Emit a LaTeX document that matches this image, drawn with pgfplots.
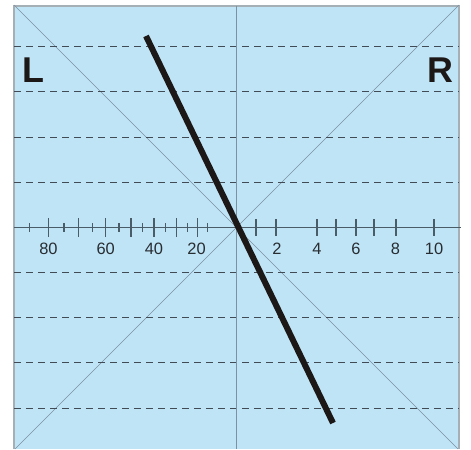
\documentclass[border=0pt]{standalone}
\usepackage{fontspec}
\setmainfont{Liberation Sans}
\usepackage{pgfplots}
\usepackage{pgfplotstable}
\pgfplotsset{compat=1.18}

\definecolor{panelBlue}{RGB}{191,228,246}
\definecolor{edgeGray}{RGB}{165,175,182}
\definecolor{axisGray}{RGB}{75,92,105}
\definecolor{diagGray}{RGB}{125,145,160}
\definecolor{dashGray}{RGB}{65,75,85}
\definecolor{textGray}{RGB}{40,45,50}
\definecolor{needle}{RGB}{28,24,24}

% tick marks on the centre scale: position and half length (pixels)
\pgfplotstableread{
x     h
29.3  4.5
48.5  9.5
64.0  4.5
78.3  9.5
92.7  4.5
105.7 9.5
119.0 4.5
131.0 9.5
142.7 4.5
154.0 9.5
165.7 4.5
176.7 9.5
187.3 4.5
197.7 9.5
207.3 4.5
256.0 8.5
276.0 8.5
317.0 8.5
336.0 8.5
356.0 8.5
374.0 8.5
396.0 8.5
434.0 8.5
}\scaleticks

\pgfplotstableread{
x     y    lab
48.5  249  80
105.7 249  60
154.0 249  40
196.5 249  20
277.0 249  2
317.0 249  4
356.0 249  6
395.5 249  8
434.0 249  10
}\scalelabels

% dashed guide lines, nan rows break the line
\pgfplotstableread{
x   y
14  46.5
459 46.5
nan nan
14  91.5
459 91.5
nan nan
14  137
459 137
nan nan
14  182
459 182
nan nan
14  272.5
459 272.5
nan nan
14  317.5
459 317.5
nan nan
14  362.5
459 362.5
nan nan
14  408.3
459 408.3
}\guides

\begin{document}
\begin{tikzpicture}
\begin{axis}[
    width=471bp, height=449bp, scale only axis,
    xmin=0, xmax=471, ymin=0, ymax=449,
    y dir=reverse,
    hide axis, clip=false,
    unbounded coords=jump,
]
    % white canvas so the page keeps the full size
    \addplot[draw=none, fill=white] coordinates {(0,0) (471,0) (471,449) (0,449)} -- cycle;

    % blue panel
    \addplot[draw=none, fill=panelBlue] coordinates {(14,6) (459,6) (459,449) (14,449)} -- cycle;
    \addplot[edgeGray, line width=1.2bp] coordinates {(14,449) (14,6) (459,6) (459,449)};

    % diagonals
    \addplot[diagGray, line width=0.6bp] coordinates {(14,5) (458,449)};
    \addplot[diagGray, line width=0.6bp] coordinates {(459,5) (15,449)};

    % dashed guide lines
    \addplot[dashGray, line width=0.9bp, dash pattern=on 7bp off 5bp] table {\guides};

    % centre vertical and horizontal scale line
    \addplot[diagGray, line width=0.8bp] coordinates {(236,6) (236,449)};
    \addplot[axisGray, line width=1bp] coordinates {(14,227) (461,227)};

    % scale ticks
    \addplot[draw=none, mark=none,
        error bars/.cd, y dir=both, y explicit,
        error mark=none,
        error bar style={axisGray, line width=1.4bp}]
        table[x=x, y expr=227, y error=h] {\scaleticks};

    % scale numbers
    \addplot[draw=none, mark=none,
        nodes near coords, point meta=explicit symbolic,
        every node near coord/.append style={
            anchor=center, font=\fontsize{16.5}{16.5}\selectfont, text=textGray}]
        table[x=x, y=y, meta=lab] {\scalelabels};

    % the needle
    \addplot[needle, line width=6bp] coordinates {(146,36) (333,423)};

    \node[font=\fontsize{36}{36}\selectfont\bfseries, text=needle] at (axis cs:33,70.5) {L};
    \node[font=\fontsize{36}{36}\selectfont\bfseries, text=needle] at (axis cs:440.5,70.5) {R};
\end{axis}
\end{tikzpicture}
\end{document}
